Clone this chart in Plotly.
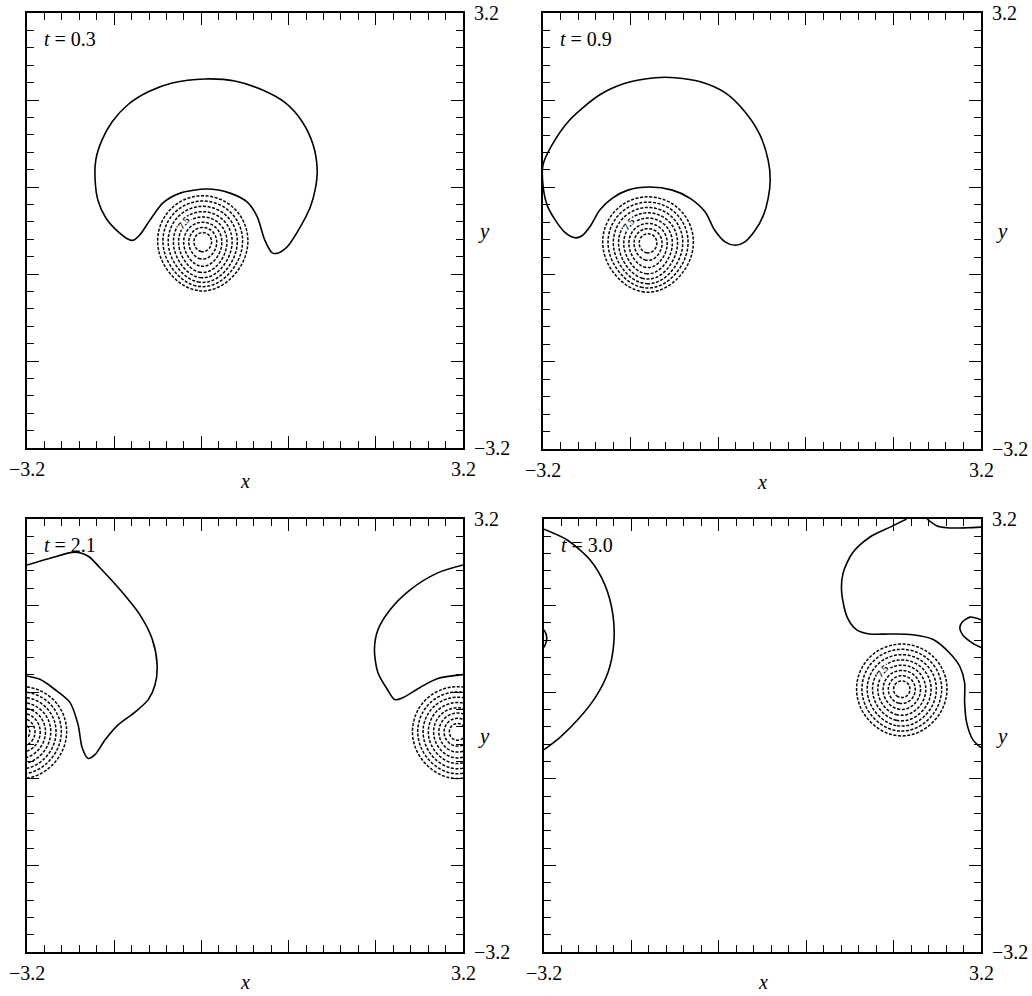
import numpy as np
import plotly.graph_objects as go

L = 3.2
PERIOD = 2 * L

times = ["0.3", "0.9", "2.1", "3.0"]

# Vortex centre at each time; conical vorticity profile (peak, outer radius)
vortex_x = [-0.62, -1.665, 3.12, 2.04]
vortex_y = [-0.15, -0.16, 0.06, 0.69]
vortex_peak = 14.2
vortex_radius = 0.74
# weak trailing lobe just below each vortex core
tail_amp = [2.3, 2.3, 0.9, 0.9]
tail_dy = -0.5
tail_core = 0.35
level_start, level_end, level_step = 1.5, 12.0, 1.5
level_label = "7.5"
label_panels = [0, 1, 3]

# Material contour (solid line) at each time; None separates pieces
line1_x = [-1.69, -1.86, -2.04, -2.16, -2.20, -2.19, -2.10, -1.95, -1.72, -1.42, -1.07, -0.59,
           -0.15, 0.25, 0.59, 0.84, 1.00, 1.06, 1.03, 0.96, 0.81, 0.62, 0.49, 0.40, 0.29, 0.18,
           0.03, -0.22, -0.56, -0.95, -1.20, -1.39, -1.54, -1.63, -1.69]
line1_y = [-0.14, -0.02, 0.18, 0.45, 0.74, 1.04, 1.33, 1.60, 1.85, 2.04, 2.17, 2.23,
           2.20, 2.07, 1.88, 1.60, 1.26, 0.89, 0.60, 0.35, 0.05, -0.24, -0.33, -0.33, -0.14, 0.20,
           0.42, 0.55, 0.61, 0.55, 0.41, 0.16, -0.06, -0.14, -0.14]

line2_x = [-2.73, -2.88, -3.02, -3.14, -3.20, -3.20, -3.07, -2.81, -2.37, -2.00, -1.56, -1.27,
           -0.90, -0.54, -0.25, -0.03, 0.09, 0.12, 0.09, 0.02, -0.10, -0.25, -0.39, -0.54, -0.69,
           -0.83, -1.05, -1.31, -1.64, -1.96, -2.19, -2.37, -2.51, -2.63, -2.73]
line2_y = [-0.10, -0.02, 0.16, 0.38, 0.67, 0.97, 1.26, 1.63, 2.00, 2.17, 2.25, 2.25,
           2.19, 2.03, 1.75, 1.41, 1.04, 0.75, 0.48, 0.23, 0.01, -0.16, -0.21, -0.16, 0.01,
           0.28, 0.48, 0.60, 0.645, 0.60, 0.48, 0.31, 0.07, -0.07, -0.10]

line3_x = [-3.20, -2.86, -2.50, -2.30, -2.13, -1.83, -1.54, -1.36, -1.29, -1.32, -1.42, -1.61,
           -1.86, -2.05, -2.20, -2.30, -2.39, -2.45, -2.57, -2.79, -3.01, -3.20, None,
           3.20, 2.82, 2.42, 2.13, 1.95, 1.90, 1.95, 2.09, 2.20, 2.32, 2.57, 2.82, 3.20]
line3_y = [2.52, 2.62, 2.71, 2.65, 2.48, 2.15, 1.78, 1.42, 1.05, 0.75, 0.53, 0.35,
           0.16, -0.06, -0.28, -0.34, -0.18, 0.16, 0.49, 0.68, 0.83, 0.88, None,
           2.52, 2.40, 2.15, 1.86, 1.56, 1.27, 0.93, 0.68, 0.53, 0.56, 0.71, 0.84, 0.90]

line4_x = [-3.20, -2.86, -2.53, -2.31, -2.19, -2.18, -2.26, -2.45, -2.70, -2.97, -3.20, None,
           -3.20, -3.17, -3.16, -3.18, -3.20, None,
           2.11, 1.87, 1.57, 1.32, 1.18, 1.16, 1.24, 1.38, 1.57, 1.87, 2.20, 2.50, 2.74, 2.89,
           2.96, 2.96, 2.99, 3.08, 3.20, None,
           2.41, 2.55, 2.70, 2.99, 3.20, None,
           3.20, 3.04, 2.92, 2.89, 2.93, 3.07, 3.20]
line4_y = [3.05, 2.89, 2.60, 2.23, 1.78, 1.34, 0.94, 0.56, 0.24, -0.03, -0.21, None,
           1.56, 1.50, 1.42, 1.35, 1.30, None,
           3.20, 3.08, 2.93, 2.70, 2.40, 2.11, 1.75, 1.56, 1.50, 1.50, 1.49, 1.42, 1.22, 1.02,
           0.78, 0.49, 0.19, -0.06, -0.18, None,
           3.20, 3.10, 3.07, 3.07, 3.08, None,
           1.71, 1.75, 1.67, 1.59, 1.49, 1.37, 1.30]

lines_x = [line1_x, line2_x, line3_x, line4_x]
lines_y = [line1_y, line2_y, line3_y, line4_y]

# Subplot boxes in pixels: (left, right, top, bottom)
W, H = 1032, 996
boxes_px = [(27, 463, 13, 448), (543, 981, 13, 449), (27, 463, 519, 952), (544, 981, 519, 952)]

SERIF = "Liberation Serif"

grid = np.linspace(-L, L, 481)
GX, GY = np.meshgrid(grid, grid)


def periodic_r2(xc, yc):
    # squared distance to the nearest periodic image in x
    dx = (GX - xc + L) % PERIOD - L
    return dx ** 2 + (GY - yc) ** 2


def vorticity(i):
    r = np.sqrt(periodic_r2(vortex_x[i], vortex_y[i]))
    core = vortex_peak * np.clip(1 - r / vortex_radius, 0, None)
    tail = tail_amp[i] * np.exp(-periodic_r2(vortex_x[i], vortex_y[i] + tail_dy) / tail_core ** 2)
    return core + tail


fig = go.Figure()
annotations = []
layout_axes = {}

for i in range(4):
    n = "" if i == 0 else str(i + 1)
    xa, ya = "x" + n, "y" + n
    x0, x1, y0, y1 = boxes_px[i]
    bottom_row = i >= 2

    fig.add_trace(go.Contour(
        x=grid, y=grid, z=vorticity(i),
        contours=dict(start=level_start, end=level_end, size=level_step, coloring="none"),
        line=dict(color="black", width=1.5, dash="3px,1.6px", smoothing=1),
        showscale=False, hoverinfo="skip", xaxis=xa, yaxis=ya,
    ))
    fig.add_trace(go.Scatter(
        x=lines_x[i], y=lines_y[i], mode="lines",
        line=dict(color="black", width=1.6, shape="spline", smoothing=0.8),
        connectgaps=False, hoverinfo="skip", xaxis=xa, yaxis=ya,
    ))

    common = dict(
        range=[-L, L], showline=True, linewidth=2, linecolor="black", mirror="allticks",
        ticks="inside", ticklen=12, tickwidth=1.4, tickcolor="black",
        tick0=-L, dtick=1.28, showticklabels=False, showgrid=False, zeroline=False,
        minor=dict(tick0=-L, dtick=0.256, ticks="inside", ticklen=7, tickwidth=1.4,
                   tickcolor="black", showgrid=False),
    )
    layout_axes["xaxis" + n] = dict(common, domain=[x0 / W, x1 / W], anchor=ya)
    layout_axes["yaxis" + n] = dict(common, domain=[1 - y1 / H, 1 - y0 / H], anchor=xa)

    font = dict(family=SERIF, size=20, color="black")
    # time label
    annotations.append(dict(text="<i>t</i> = " + times[i], xref=xa + " domain", yref=ya + " domain",
                            x=0.035, y=0.94, xanchor="left", yanchor="middle", showarrow=False,
                            font=font))
    # x tick labels and title
    for v, txt in ((-L, "\u22123.2"), (L, "3.2")):
        annotations.append(dict(text=txt, xref=xa, yref=ya + " domain", x=v, y=0,
                                xanchor="center", yanchor="middle", yshift=-21, showarrow=False,
                                font=font))
    annotations.append(dict(text="<i>x</i>", xref=xa + " domain", yref=ya + " domain", x=0.5, y=0,
                            xanchor="center", yanchor="middle", yshift=-30 if bottom_row else -33,
                            showarrow=False, font=dict(family=SERIF, size=20, color="black")))
    # y tick labels and title
    for v, txt in ((-L, "\u22123.2"), (L, "3.2")):
        annotations.append(dict(text=txt, xref=xa + " domain", yref=ya, x=1, y=v,
                                xanchor="left", yanchor="middle", xshift=9, showarrow=False,
                                font=font))
    annotations.append(dict(text="<i>y</i>", xref=xa + " domain", yref=ya + " domain", x=1, y=0.5,
                            xanchor="left", yanchor="middle", xshift=13, showarrow=False,
                            font=dict(family=SERIF, size=21, color="black")))
    # contour level label
    if i in label_panels:
        annotations.append(dict(text="<b>" + level_label + "</b>", xref=xa, yref=ya,
                                x=vortex_x[i] - 0.28, y=vortex_y[i] + 0.27, textangle=-50,
                                showarrow=False, bgcolor="white", borderpad=0,
                                font=dict(family=SERIF, size=10, color="black")))

fig.update_layout(
    width=W, height=H, margin=dict(l=0, r=0, t=0, b=0),
    paper_bgcolor="white", plot_bgcolor="white", showlegend=False,
    annotations=annotations, **layout_axes,
)

fig.write_html("out.html")
